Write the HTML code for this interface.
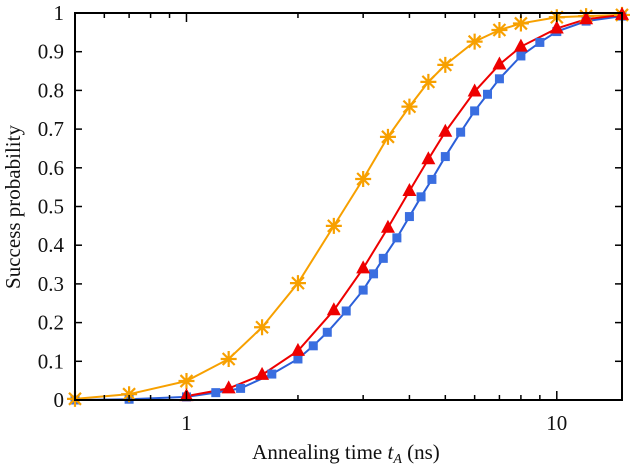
<!DOCTYPE html>
<html><head><meta charset="utf-8"><style>
body{margin:0;background:#fff}
svg text{font-family:"Liberation Serif",serif;fill:#111}
</style></head><body>
<svg id="chart" width="633" height="470" viewBox="0 0 633 470" xmlns="http://www.w3.org/2000/svg">
<g id="grid"></g>
<g id="series"></g>
<rect x="75" y="13" width="547" height="387" fill="none" stroke="#000" stroke-width="2"/>
<g id="axes"></g>
<text transform="translate(20,207) rotate(-90)" text-anchor="middle" font-size="21">Success probability</text>
<text x="346" y="459" text-anchor="middle" font-size="21">Annealing time <tspan font-style="italic">t</tspan><tspan font-style="italic" font-size="14" dy="4">A</tspan><tspan dy="-4"> (ns)</tspan></text>
</svg>
<script>
const yTicks=[0,0.1,0.2,0.3,0.4,0.5,0.6,0.7,0.8,0.9,1];
const yTickLabels=["0","0.1","0.2","0.3","0.4","0.5","0.6","0.7","0.8","0.9","1"];
const xMajor=[1,10];
const xMajorLabels=["1","10"];
const xMinor=[0.6,0.7,0.8,0.9,2,3,4,5,6,7,8,9];
const orangeX=[0.5,0.7,1,1.3,1.6,2,2.5,3,3.5,4,4.5,5,6,7,8,10,12,15];
const orangeY=[0.003,0.015,0.049,0.106,0.188,0.302,0.45,0.571,0.68,0.758,0.822,0.866,0.926,0.956,0.973,0.989,0.992,0.995];
const redX=[1,1.3,1.6,2,2.5,3,3.5,4,4.5,5,6,7,8,10,12,15];
const redY=[0.01,0.03,0.065,0.127,0.232,0.34,0.445,0.54,0.622,0.693,0.797,0.867,0.913,0.96,0.984,0.995];
const blueX=[0.5,0.7,1,1.2,1.4,1.7,2,2.2,2.4,2.7,3,3.2,3.4,3.7,4,4.3,4.6,5,5.5,6,6.5,7,8,9,10,12,15];
const blueY=[0,0.002,0.008,0.019,0.03,0.067,0.106,0.14,0.175,0.23,0.284,0.326,0.366,0.419,0.474,0.525,0.57,0.629,0.692,0.747,0.79,0.83,0.889,0.924,0.952,0.979,0.992];

const NS="http://www.w3.org/2000/svg";
const X0=75,X1=622,Y0=400,Y1=13,LMIN=Math.log10(0.5),LMAX=Math.log10(15);
function xs(v){return X0+(Math.log10(v)-LMIN)/(LMAX-LMIN)*(X1-X0);}
function ys(v){return Y0-v*(Y0-Y1);}
function mk(tag,attrs,parent){const e=document.createElementNS(NS,tag);for(const k in attrs)e.setAttribute(k,attrs[k]);parent.appendChild(e);return e;}
const axes=document.getElementById('axes'),series=document.getElementById('series');
yTicks.forEach((t,i)=>{
  const y=ys(t);
  const a=mk('line',{x1:X0,x2:X0+7,y1:y,y2:y,stroke:'#000','stroke-width':1.5},axes);
  
  
  const b=mk('line',{x1:X1-7,x2:X1,y1:y,y2:y,stroke:'#000','stroke-width':1.5},axes);
  
  
  const tx=mk('text',{x:64,y:y+7,'text-anchor':'end','font-size':21},axes);
  tx.textContent=yTickLabels[i];
  
  
});
xMajor.forEach((t,i)=>{
  const x=xs(t);
  [[Y0,Y0-9],[Y1,Y1+9]].forEach(p=>{
    const l=mk('line',{x1:x,x2:x,y1:p[0],y2:p[1],stroke:'#000','stroke-width':1.5},axes);
    
    
  });
  const tx=mk('text',{x:x,y:430,'text-anchor':'middle','font-size':21},axes);
  tx.textContent=xMajorLabels[i];
  
  
});
xMinor.forEach(t=>{
  const x=xs(t);
  [[Y0,Y0-5],[Y1,Y1+5]].forEach(p=>{
    const l=mk('line',{x1:x,x2:x,y1:p[0],y2:p[1],stroke:'#000','stroke-width':1.5},axes);
    
    
  });
});
function line(xv,yv,color,name){
  const pl=mk('polyline',{points:xv.map((x,i)=>xs(x)+','+ys(yv[i])).join(' '),fill:'none',stroke:color,'stroke-width':2},series);
  
  
}
line(blueX,blueY,'#2b5fd9','blue-series-line');
line(orangeX,orangeY,'#f7a000','orange-series-line');
line(redX,redY,'#ee0000','red-series-line');
blueX.forEach((x,i)=>{
  const r=mk('rect',{x:xs(x)-4.5,y:ys(blueY[i])-4.5,width:9,height:9,fill:'#3a6ee0'},series);
  
  
});
orangeX.forEach((x,i)=>{
  const cx=xs(x),cy=ys(orangeY[i]),s=8;
  const p=mk('path',{d:`M${cx-s} ${cy}H${cx+s}M${cx} ${cy-s}V${cy+s}M${cx-6} ${cy-6}L${cx+6} ${cy+6}M${cx-6} ${cy+6}L${cx+6} ${cy-6}`,stroke:'#f7a000','stroke-width':2.2,fill:'none'},series);
  
  
});
redX.forEach((x,i)=>{
  const cx=xs(x),cy=ys(redY[i]);
  const p=mk('polygon',{points:`${cx},${cy-8} ${cx-7},${cy+5} ${cx+7},${cy+5}`,fill:'#ee0000'},series);
  
  
});
</script>
</body></html>
